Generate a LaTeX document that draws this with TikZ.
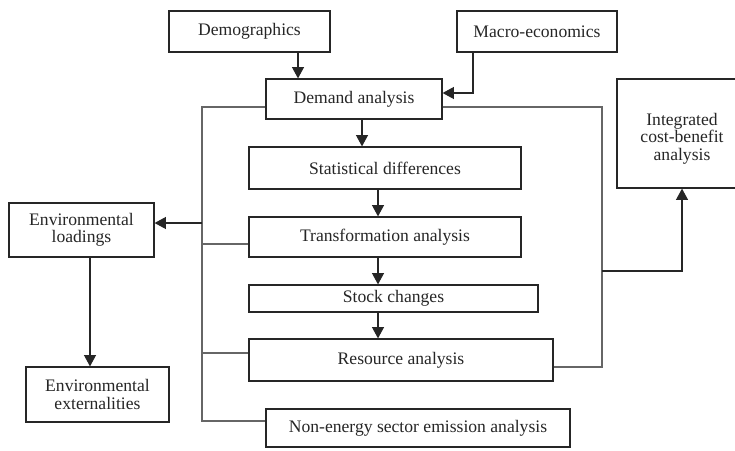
\documentclass[tikz,border=0pt]{standalone}
\usepackage{fontspec}
\setmainfont{Liberation Serif}
\usetikzlibrary{arrows.meta}
\begin{document}
\begin{tikzpicture}[x=0.75pt,y=-0.75pt,
  box/.style={draw=black!85,line width=0.9pt,fill=white,inner sep=0pt,align=center,
    font=\fontsize{13.2}{13}\selectfont,text=black!85},
  conn/.style={draw=black!60,line width=0.8pt},
  arr/.style={draw=black!85,line width=0.8pt,-{Triangle[length=8.5pt,width=9pt]}}]
\useasboundingbox (0,0) rectangle (735,450);
% boxes
\node[box,minimum width=120.75pt,minimum height=30.75pt] (demo) at (249.5,31.5) {Demographics};
\node[box,minimum width=120pt,minimum height=30.75pt] (macro) at (537,31.5) {Macro-economics};
\node[box,minimum width=132pt,minimum height=30pt] (demand) at (354,99) {Demand analysis};
\node[box,minimum width=97.5pt,minimum height=81.75pt] (integ) at (682,133.5) {\rule{0pt}{17pt}Integrated\\cost-benefit\\analysis};
\node[box,minimum width=204pt,minimum height=31.5pt] (stat) at (385,168) {Statistical differences};
\node[box,minimum width=204pt,minimum height=30pt] (trans) at (385,237) {Transformation analysis};
\node[box,minimum width=216.75pt,minimum height=20.25pt] (stock) at (393.5,298.5) {Stock changes};
\node[box,minimum width=228pt,minimum height=31.5pt] (res) at (401,360) {Resource analysis};
\node[box,minimum width=228pt,minimum height=28.5pt] (nonen) at (418,428) {Non-energy sector emission analysis};
\node[box,minimum width=108.75pt,minimum height=40.5pt] (envl) at (81.5,230) {Environmental\\loadings};
\node[box,minimum width=107.25pt,minimum height=41.25pt] (enve) at (97.5,394.5) {Environmental\\externalities};
% trunk lines
\coordinate (tl) at (202,107);
\coordinate (bl) at (202,421);
\coordinate (tr) at (602,107);
\coordinate (br) at (602,367);
\draw[conn] (demand.west |- tl) -- (tl) -- (bl) -- (nonen.west |- bl);
\draw[conn] (202,244) -- (trans.west |- 0,244);
\draw[conn] (202,353) -- (res.west |- 0,353);
\draw[conn] (demand.east |- tr) -- (tr) -- (br) -- (res.east |- br);
% arrows
\draw[arr] (298,0 |- demo.south) -- (298,0 |- demand.north);
\draw[arr] (473,0 |- macro.south) |- (demand.east |- 0,93);
\draw[arr] (362,0 |- demand.south) -- (362,0 |- stat.north);
\draw[arr] (378,0 |- stat.south) -- (378,0 |- trans.north);
\draw[arr] (378,0 |- trans.south) -- (378,0 |- stock.north);
\draw[arr] (378,0 |- stock.south) -- (378,0 |- res.north);
\draw[arr] (202,223) -- (envl.east |- 0,223);
\draw[arr] (90,0 |- envl.south) -- (90,0 |- enve.north);
\draw[arr] (602,271) -| (682,0 |- integ.south);
\end{tikzpicture}
\end{document}
